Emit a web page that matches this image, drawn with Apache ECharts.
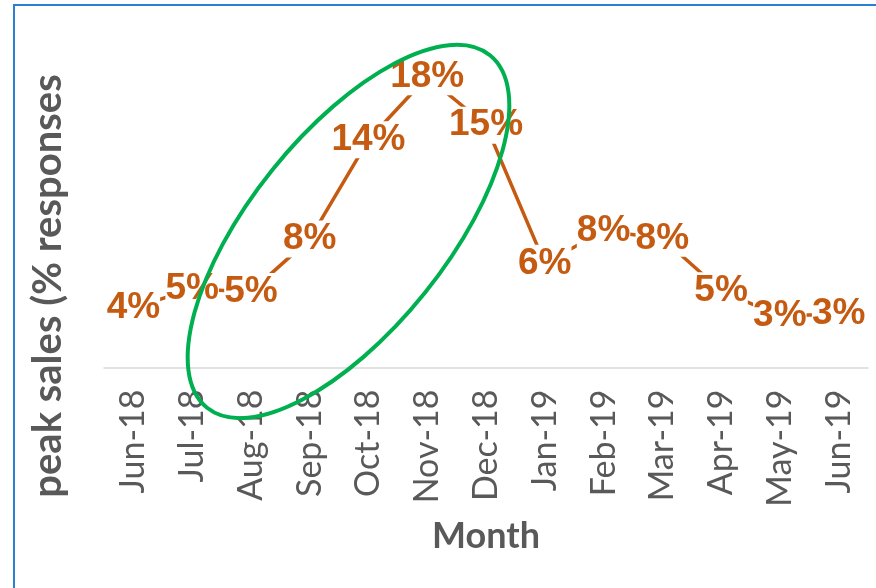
<!DOCTYPE html>
<html>
<head>
<meta charset="utf-8">
<script src="https://cdn.jsdelivr.net/npm/echarts@6/dist/echarts.min.js"></script>
<style>html,body{margin:0;padding:0;background:#fff}#c{width:876px;height:588px}</style>
</head>
<body>
<div id="c"></div>
<script>
const months = ['Jun-18','Jul-18','Aug-18','Sep-18','Oct-18','Nov-18','Dec-18','Jan-19','Feb-19','Mar-19','Apr-19','May-19','Jun-19'];
const peakSales = [3.7, 4.85, 4.7, 7.95, 14.1, 18.0, 15.0, 6.45, 8.45, 8.0, 4.75, 3.2, 3.3];
const yTitle = 'peak sales (% responses';
const xTitle = 'Month';

const chart = echarts.init(document.getElementById('c'), null, {renderer: 'canvas'});
chart.setOption({
  animation: false,
  backgroundColor: '#fff',
  grid: {left: 104, right: 8, top: 44.5, bottom: 220.5},
  xAxis: {
    type: 'category',
    data: months,
    boundaryGap: true,
    name: xTitle,
    nameLocation: 'middle',
    nameGap: 151,
    nameTextStyle: {fontFamily: 'Lato', fontWeight: 'bold', fontSize: 36, color: '#595959'},
    axisLine: {lineStyle: {color: '#d9d9d9', width: 1.5}},
    axisTick: {show: false},
    axisLabel: {interval: 0, rotate: 90, margin: 22, fontFamily: 'Lato', fontSize: 34, color: '#595959'}
  },
  yAxis: {
    type: 'value', min: 0, max: 20, show: false, splitLine: {show: false}
  },
  series: [{
    type: 'line',
    data: peakSales,
    symbol: 'circle',
    symbolSize: 1,
    showSymbol: true,
    itemStyle: {color: 'rgba(0,0,0,0)'},
    lineStyle: {color: '#C55A11', width: 3.5},
    label: {
      show: true,
      position: 'inside',
      formatter: p => Math.round(p.value) + '%',
      fontFamily: 'Liberation Sans',
      fontWeight: 'bold',
      fontSize: 37,
      color: '#C55A11',
      backgroundColor: '#fff',
      padding: [0, 0]
    },
    labelLayout: {hideOverlap: false}
  }],
  graphic: [
    {type: 'rect', shape: {x: 14, y: 5, width: 900, height: 620}, style: {fill: null, stroke: '#2A7FD3', lineWidth: 2}, z: 100, silent: true},
    {type: 'text', x: 48, y: 286, rotation: Math.PI / 2,
      style: {text: yTitle, fontFamily: 'Lato', fontWeight: 'bold', fontSize: 40, fill: '#595959', align: 'center', verticalAlign: 'middle'}, z: 100},
    {type: 'ellipse', x: 348.5, y: 231.5, rotation: 51.25 * Math.PI / 180,
      shape: {cx: 0, cy: 0, rx: 226, ry: 98},
      style: {fill: null, stroke: '#00B050', lineWidth: 4}, z: 100, silent: true}
  ]
});
</script>
</body>
</html>
